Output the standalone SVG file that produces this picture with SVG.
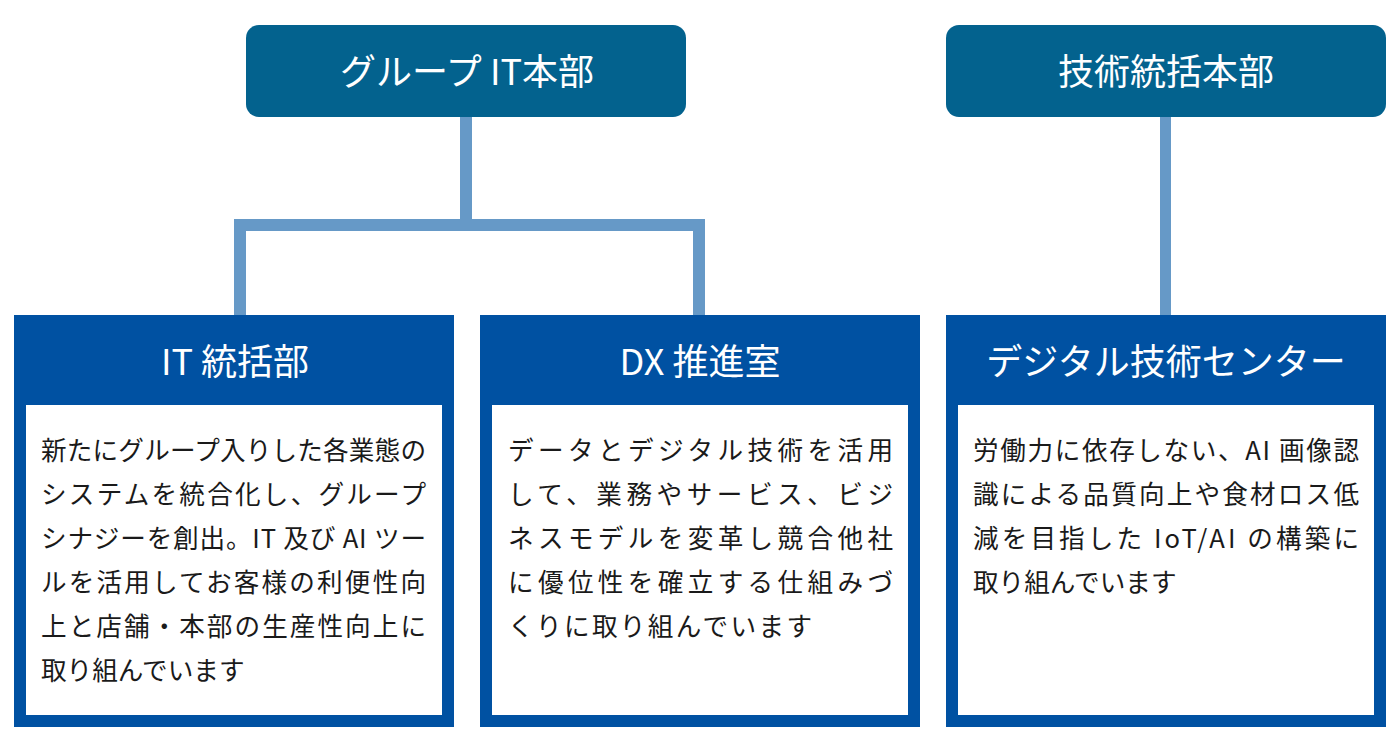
<svg xmlns="http://www.w3.org/2000/svg" width="1400" height="744" viewBox="0 0 1400 744">
<style>
.top{fill:#03628e}
.frame{fill:#0051a2}
.inner{fill:#ffffff}
.ttl{font-family:"Noto Sans CJK JP","Noto Sans",sans-serif;font-size:36px;fill:#ffffff;text-anchor:middle}
.body{font-family:"Noto Sans CJK JP","Noto Sans",sans-serif;font-size:25.6px;fill:#1a1a1a}
.conn{fill:#6699c7}
</style>
<rect width="1400" height="744" fill="#ffffff"/>
<g id="connectors">
<rect class="conn" x="460" y="110" width="12" height="115"/>
<rect class="conn" x="234" y="219" width="471" height="12"/>
<rect class="conn" x="234" y="219" width="12" height="100"/>
<rect class="conn" x="693" y="219" width="12" height="100"/>
<rect class="conn" x="1160" y="110" width="11" height="209"/>
</g>
<g id="group-it">
<rect class="top" x="246" y="25" width="440" height="92" rx="13"/>
<text class="ttl" x="467" y="85">グループ IT本部</text>
</g>
<g id="tech-hq">
<rect class="top" x="946" y="25" width="440" height="92" rx="13"/>
<text class="ttl" x="1166" y="85">技術統括本部</text>
</g>
<g id="it-dept">
<rect class="frame" x="14" y="315" width="440" height="412"/>
<rect class="inner" x="26" y="405" width="416" height="310"/>
<text class="ttl" x="235" y="375">IT 統括部</text>
<text class="body" x="41" y="460" textLength="385" lengthAdjust="spacing">新たにグループ入りした各業態の</text>
<text class="body" x="41" y="504" textLength="385" lengthAdjust="spacing">システムを統合化し、グループ</text>
<text class="body" x="41" y="548" textLength="385" lengthAdjust="spacing">シナジーを創出。IT 及び AI ツー</text>
<text class="body" x="41" y="592" textLength="385" lengthAdjust="spacing">ルを活用してお客様の利便性向</text>
<text class="body" x="41" y="636" textLength="385" lengthAdjust="spacing">上と店舗・本部の生産性向上に</text>
<text class="body" x="41" y="680">取り組んでいます</text>
</g>
<g id="dx-office">
<rect class="frame" x="480" y="315" width="440" height="412"/>
<rect class="inner" x="492" y="405" width="416" height="310"/>
<text class="ttl" x="700" y="375">DX 推進室</text>
<text class="body" x="508" y="460" textLength="385" lengthAdjust="spacing">データとデジタル技術を活用</text>
<text class="body" x="508" y="504" textLength="385" lengthAdjust="spacing">して、業務やサービス、ビジ</text>
<text class="body" x="508" y="548" textLength="385" lengthAdjust="spacing">ネスモデルを変革し競合他社</text>
<text class="body" x="508" y="592" textLength="385" lengthAdjust="spacing">に優位性を確立する仕組みづ</text>
<text class="body" x="508" y="636" textLength="304" lengthAdjust="spacing">くりに取り組んでいます</text>
</g>
<g id="digital-center">
<rect class="frame" x="946" y="315" width="440" height="412"/>
<rect class="inner" x="958" y="405" width="416" height="310"/>
<text class="ttl" x="1166" y="375">デジタル技術センター</text>
<text class="body" x="973" y="460" textLength="386" lengthAdjust="spacing">労働力に依存しない、AI 画像認</text>
<text class="body" x="973" y="504" textLength="386" lengthAdjust="spacing">識による品質向上や食材ロス低</text>
<text class="body" x="973" y="548" textLength="386" lengthAdjust="spacing">減を目指した IoT/AI の構築に</text>
<text class="body" x="973" y="592">取り組んでいます</text>
</g>
</svg>
